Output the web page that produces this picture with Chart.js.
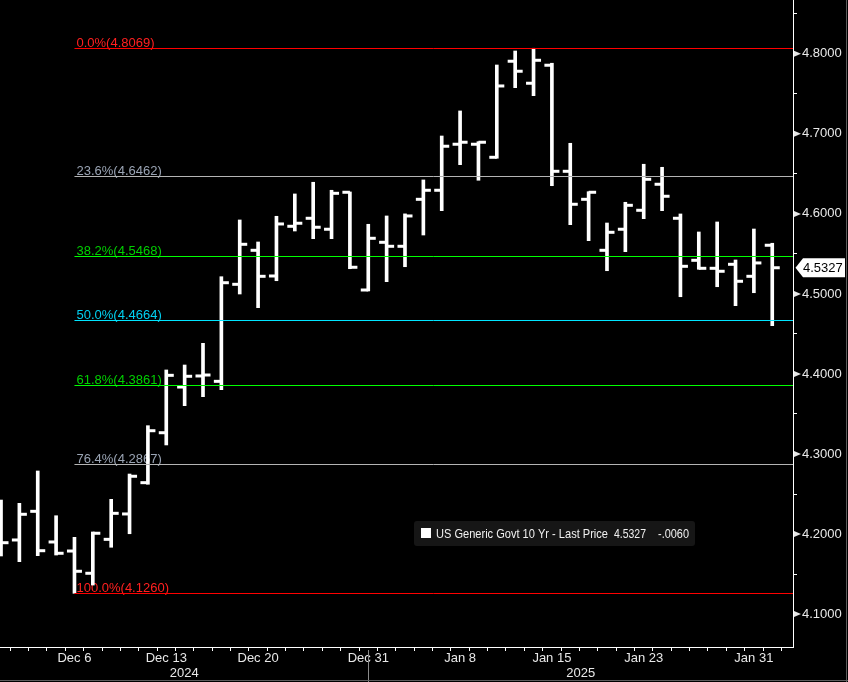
<!DOCTYPE html>
<html><head><meta charset="utf-8">
<script src="https://cdn.jsdelivr.net/npm/chart.js@4.4.1/dist/chart.umd.min.js"></script>
<style>html,body{margin:0;padding:0;background:#000;overflow:hidden}#wrap{width:848px;height:682px;position:relative}canvas{display:block}</style>
</head><body><div id="wrap"><canvas id="c" width="848" height="682"></canvas></div>
<script>
const dates = ['Dec 2','Dec 3','Dec 4','Dec 5','Dec 6','Dec 9','Dec 10','Dec 11','Dec 12','Dec 13',
  'Dec 16','Dec 17','Dec 18','Dec 19','Dec 20','Dec 23','Dec 24','Dec 26','Dec 27','Dec 30','Dec 31',
  'Jan 2','Jan 3','Jan 6','Jan 7','Jan 8','Jan 9','Jan 10','Jan 13','Jan 14','Jan 15','Jan 16','Jan 17',
  'Jan 21','Jan 22','Jan 23','Jan 24','Jan 27','Jan 28','Jan 29','Jan 30','Jan 31','Feb 3'];
const openV  = [4.2000,4.1926,4.2284,4.1901,4.1788,4.1510,4.1934,4.2251,4.2642,4.3266,
  4.3837,4.3975,4.3908,4.5120,4.5545,4.5224,4.5845,4.5945,4.5808,4.6270,4.5049,
  4.5645,4.5595,4.6182,4.6295,4.6870,4.6870,4.6707,4.7907,4.7632,4.7857,4.6532,4.6182,
  4.5545,4.5808,4.6045,4.6370,4.5945,4.5420,4.5320,4.5370,4.5220,4.5608];
const highV  = [4.2425,4.2384,4.2788,4.2229,4.1959,4.2026,4.2434,4.2750,4.3354,4.4050,
  4.4112,4.4383,4.5215,4.5924,4.5649,4.5970,4.6249,4.6395,4.6295,4.6274,4.5870,
  4.5974,4.6000,4.6424,4.6973,4.7286,4.6902,4.7860,4.8035,4.8069,4.7882,4.6882,4.6277,
  4.5886,4.6145,4.6620,4.6582,4.5999,4.5774,4.5899,4.5424,4.5811,4.5633];
const lowV   = [4.1726,4.1655,4.1730,4.1738,4.1260,4.1363,4.1835,4.2004,4.2622,4.3113,
  4.3604,4.3716,4.3804,4.4999,4.4828,4.5165,4.5786,4.5690,4.5690,4.5315,4.5037,
  4.5153,4.5340,4.5736,4.6040,4.6615,4.6420,4.6695,4.7577,4.7477,4.6352,4.5865,4.5665,
  4.5290,4.5528,4.5940,4.6040,4.4965,4.5308,4.5090,4.4853,4.5015,4.4603];
const closeV = [4.1892,4.2247,4.1792,4.1760,4.1535,4.2010,4.2259,4.2722,4.3291,4.3983,
  4.3971,4.3987,4.5140,4.5620,4.5220,4.5874,4.5883,4.5833,4.6257,4.5333,4.5695,
  4.5595,4.5974,4.6295,4.6845,4.6895,4.6895,4.7598,4.7782,4.7919,4.6532,4.6120,4.6270,
  4.5770,4.6107,4.6432,4.6220,4.5345,4.5320,4.5283,4.5158,4.5387,4.5327];
const fibPct = ['0.0%','23.6%','38.2%','50.0%','61.8%','76.4%','100.0%'];
const fibVal = [4.8069,4.6462,4.5468,4.4664,4.3861,4.2867,4.1260];
const fibStartDate = 'Dec 6';
const xLabelShow = ['Dec 6','Dec 13','Dec 20','Dec 31','Jan 8','Jan 15','Jan 23','Jan 31'];
const yearLabels = ['2024','2025'];
const yearBreakDate = 'Dec 31';
const yTickVals = [4.10,4.15,4.20,4.25,4.30,4.35,4.40,4.45,4.50,4.55,4.60,4.65,4.70,4.75,4.80,4.85];
const seriesName = 'US Generic Govt 10 Yr - Last Price';
const lastPrice = 4.5327;
const lastChange = '-.0060';

const fibLineColor = ['#ff0000','#b4b4b4','#00ff00','#00e5ff','#00ff00','#b4b4b4','#ff0000'];
const fibTextColor = ['#ff2020','#9aa4b4','#00d000','#00d0f0','#00d000','#9aa4b4','#ff2020'];
const FONT = '"Liberation Sans", Arial, sans-serif';

const ohlcPlugin = {
  id:'ohlc',
  beforeDatasetsDraw(chart){
    const {ctx, chartArea:a, scales:{x,y}} = chart;
    const x0 = x.getPixelForValue(dates.indexOf(fibStartDate));
    ctx.save();
    ctx.beginPath(); ctx.rect(a.left,a.top,a.right-a.left,a.bottom-a.top); ctx.clip();
    ctx.font = '13px ' + FONT; ctx.textBaseline='alphabetic'; ctx.textAlign='left';
    fibVal.forEach((v,i)=>{
      const py = Math.floor(y.getPixelForValue(v));
      ctx.fillStyle = fibTextColor[i];
      ctx.fillText(fibPct[i]+'('+v.toFixed(4)+')', x0+2, py-1);
    });
    ctx.restore();
  },
  afterDatasetsDraw(chart){
    const {ctx, chartArea:a, scales:{x,y}} = chart;
    ctx.save();
    ctx.beginPath(); ctx.rect(a.left,a.top,a.right-a.left,a.bottom-a.top); ctx.clip();
    ctx.fillStyle = '#ffffff';
    dates.forEach((d,i)=>{
      const px = x.getPixelForValue(i);
      const yo = y.getPixelForValue(openV[i]);
      const yc = y.getPixelForValue(closeV[i]);
      ctx.fillRect(px-7.5, yo-1.5, 7.5, 3);
      ctx.fillRect(px, yc-1.5, 7.5, 3);
    });
    const x0 = x.getPixelForValue(dates.indexOf(fibStartDate));
    fibVal.forEach((v,i)=>{
      const py = Math.floor(y.getPixelForValue(v))+0.5;
      ctx.strokeStyle = fibLineColor[i]; ctx.lineWidth = 1;
      ctx.beginPath(); ctx.moveTo(x0, py); ctx.lineTo(a.right, py); ctx.stroke();
    });
    ctx.restore();
  },
  afterDraw(chart){
    const {ctx, chartArea:a, scales:{x,y}} = chart;
    const W = chart.width, H = chart.height;
    ctx.save();
    ctx.fillStyle = '#e6e6e6';
    yTickVals.forEach(v=>{
      if (Math.round(v*100)%10!==0) return;
      const py = y.getPixelForValue(v);
      ctx.beginPath(); ctx.moveTo(a.right+1, py-3); ctx.lineTo(a.right+8, py); ctx.lineTo(a.right+1, py+3); ctx.closePath(); ctx.fill();
    });
    const ly = y.getPixelForValue(lastPrice);
    ctx.fillStyle = '#ffffff';
    ctx.beginPath();
    ctx.moveTo(a.right+2.5, ly); ctx.lineTo(a.right+10, ly-9.5); ctx.lineTo(W-3, ly-9.5);
    ctx.lineTo(W-3, ly+9.5); ctx.lineTo(a.right+10, ly+9.5); ctx.closePath(); ctx.fill();
    ctx.fillStyle = '#000'; ctx.font = '13px ' + FONT; ctx.textBaseline='middle'; ctx.textAlign='left';
    ctx.fillText(lastPrice.toFixed(4), a.right+10, ly+0.5);
    const sx = Math.round(x.getPixelForValue(dates.indexOf(yearBreakDate)))+0.5;
    ctx.strokeStyle = '#8a8a8a'; ctx.lineWidth = 1;
    ctx.beginPath(); ctx.moveTo(sx, a.bottom+3); ctx.lineTo(sx, H); ctx.stroke();
    ctx.fillStyle = '#e8e8e8'; ctx.textAlign='center'; ctx.textBaseline='middle';
    ctx.fillText(yearLabels[0], (a.left+sx)/2, a.bottom+26);
    ctx.fillText(yearLabels[1], (sx+a.right)/2, a.bottom+26);
    ctx.fillStyle = '#161616';
    ctx.beginPath(); ctx.roundRect(414, 521, 281, 25, 3); ctx.fill();
    ctx.fillStyle = '#ffffff'; ctx.fillRect(421, 528, 10, 10);
    ctx.fillStyle = '#f0f0f0'; ctx.textAlign='left'; ctx.textBaseline='middle'; ctx.font='13px ' + FONT;
    ctx.fillText(seriesName, 436, 534, 172);
    ctx.fillText(lastPrice.toFixed(4), 614, 534, 32);
    ctx.fillText(lastChange, 658, 534, 31);
    ctx.strokeStyle = '#5c5c5c';
    ctx.beginPath(); ctx.moveTo(W-1.5, 0); ctx.lineTo(W-1.5, H); ctx.stroke();
    ctx.beginPath(); ctx.moveTo(0, H-1.5); ctx.lineTo(W, H-1.5); ctx.stroke();
    ctx.restore();
  }
};

const xTickIdx = dates.map((d,i)=>i).concat([dates.length]);

new Chart(document.getElementById('c'), {
  type:'bar',
  data:{ datasets:[{
    data: dates.map((d,i)=>({x:i, y:[lowV[i], highV[i]]})),
    backgroundColor:'#ffffff', borderWidth:0, barThickness:3, grouped:false
  }]},
  options:{
    responsive:false, animation:false, devicePixelRatio:1,
    layout:{ padding:0, autoPadding:false },
    plugins:{ legend:{display:false}, tooltip:{enabled:false} },
    scales:{
      x:{ type:'linear', min:-0.055, max:43.13, offset:false,
        afterBuildTicks: s => { s.ticks = xTickIdx.map(v=>({value:v})); },
        afterFit: s => { s.height = 35; s.paddingLeft = 0; s.paddingRight = 0; },
        grid:{ drawOnChartArea:false, drawTicks:true, tickLength:4, tickColor:'#ffffff' },
        border:{ display:true, color:'#ffffff', width:1 },
        ticks:{ autoSkip:false, maxRotation:0, color:'#e8e8e8', padding:0,
          font:{ family:FONT, size:13 },
          callback: v => { const d = dates[v]; return (d && xLabelShow.includes(d)) ? d : ''; } }
      },
      y:{ type:'linear', position:'right', min:4.0589, max:4.8672,
        afterBuildTicks: s => { s.ticks = yTickVals.map(v=>({value:v})); },
        afterFit: s => { s.width = 55; s.paddingTop = 0; s.paddingBottom = 0; },
        grid:{ drawOnChartArea:false, drawTicks:true, tickLength:4, tickColor:'#ffffff' },
        border:{ display:true, color:'#ffffff', width:1 },
        ticks:{ color:'#e8e8e8', padding:5, font:{ family:FONT, size:13 },
          callback: v => (Math.round(v*100)%10===0) ? v.toFixed(4) : '' }
      }
    }
  },
  plugins:[ohlcPlugin]
});
</script>
</body></html>
